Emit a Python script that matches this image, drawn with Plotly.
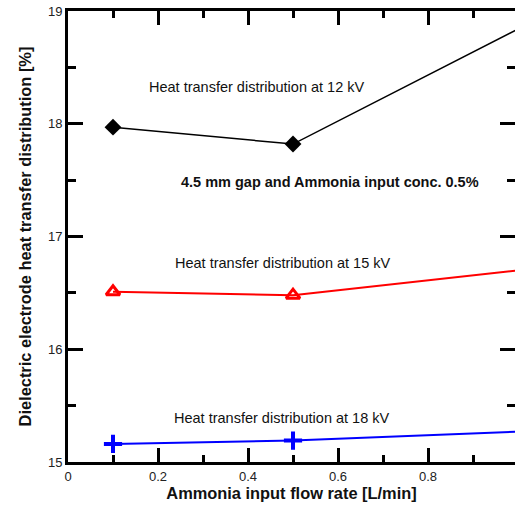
import plotly.graph_objects as go

# Ammonia input flow rate [L/min]
flow_rate = [0.1, 0.5, 1.0]

# Dielectric electrode heat transfer distribution [%]
heat_12kv = [17.97, 17.82, 18.84]
heat_15kv = [16.51, 16.48, 16.70]
heat_18kv = [15.16, 15.19, 15.27]

x_tick_vals = [0, 0.2, 0.4, 0.6, 0.8]
x_tick_text = ["0", "0.2", "0.4", "0.6", "0.8"]
y_tick_vals = [15, 16, 17, 18, 19]

FONT = "Arial, Liberation Sans, sans-serif"
X_MAX = 0.9933  # the frame's right edge sits at the page edge

fig = go.Figure()

fig.add_trace(go.Scatter(
    x=flow_rate, y=heat_12kv, mode="lines+markers",
    line=dict(color="black", width=1.5),
    marker=dict(symbol="diamond", size=13, color="black"),
    cliponaxis=False, showlegend=False,
))
fig.add_trace(go.Scatter(
    x=flow_rate, y=heat_15kv, mode="lines+markers",
    line=dict(color="#ff0000", width=2),
    marker=dict(symbol="triangle-up-open", size=12, color="#ff0000",
                line=dict(width=3, color="#ff0000")),
    cliponaxis=False, showlegend=False,
))
fig.add_trace(go.Scatter(
    x=flow_rate, y=heat_18kv, mode="lines+markers",
    line=dict(color="#0000ff", width=2),
    marker=dict(symbol="cross-thin", size=13, color="#0000ff",
                line=dict(width=4, color="#0000ff")),
    cliponaxis=False, showlegend=False,
))

annotations = [
    dict(x=0.419, y=18.329, text="Heat transfer distribution at 12 kV"),
    dict(x=0.582, y=17.48, text="<b>4.5 mm gap and Ammonia input conc. 0.5%</b>"),
    dict(x=0.478, y=16.765, text="Heat transfer distribution at 15 kV"),
    dict(x=0.476, y=15.39, text="Heat transfer distribution at 18 kV"),
]
for a in annotations:
    fig.add_annotation(xref="x", yref="y", showarrow=False,
                       xanchor="center", yanchor="middle",
                       font=dict(size=14.5, family=FONT, color="#111"), **a)

fig.update_xaxes(
    range=[0, X_MAX], tickmode="array", tickvals=x_tick_vals, ticktext=x_tick_text,
    showline=True, linecolor="black", linewidth=3, mirror="allticks",
    ticks="inside", ticklen=14, tickwidth=3, tickcolor="black",
    showgrid=False, zeroline=False,
    minor=dict(dtick=0.1, tick0=0, ticks="inside", ticklen=7,
               tickwidth=3, tickcolor="black", showgrid=False),
    tickfont=dict(size=13, family=FONT, color="#222"),
    title=dict(text="<b>Ammonia input flow rate [L/min]</b>",
               font=dict(size=16.4, family=FONT, color="#111"), standoff=4),
)
fig.update_yaxes(
    range=[15, 19], tickmode="array", tickvals=y_tick_vals,
    showline=True, linecolor="black", linewidth=3, mirror="allticks",
    ticks="inside", ticklen=15, tickwidth=3, tickcolor="black",
    showgrid=False, zeroline=False,
    minor=dict(dtick=0.5, tick0=15, ticks="inside", ticklen=8,
               tickwidth=3, tickcolor="black", showgrid=False),
    tickfont=dict(size=13, family=FONT, color="#222"),
    title=dict(text="<b>Dielectric electrode heat transfer distribution [%]</b>",
               font=dict(size=16.4, family=FONT, color="#111"), standoff=13),
)

fig.update_layout(
    template="none",
    width=515, height=506,
    margin=dict(l=68, r=0, t=11, b=44),
    paper_bgcolor="white", plot_bgcolor="rgba(255,255,255,0)",
)

fig.write_html("out.html")
